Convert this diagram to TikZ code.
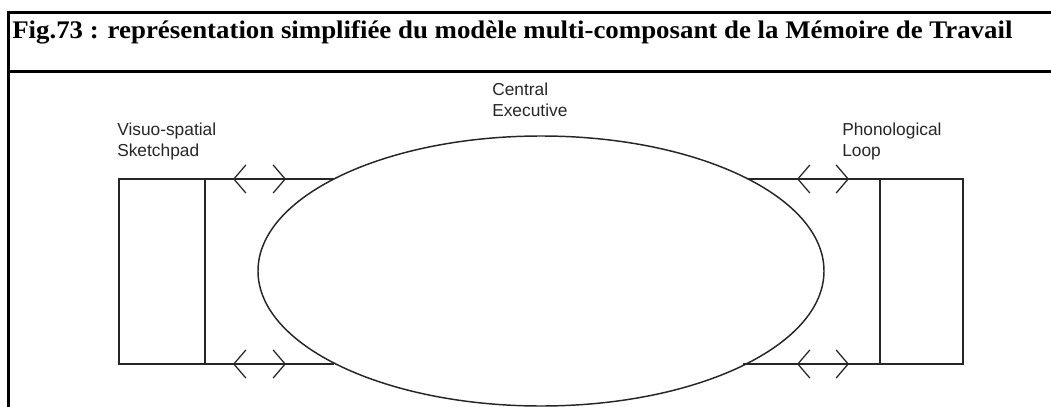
\documentclass[tikz,border=0pt]{standalone}
\usepackage{fontspec}
\setmainfont{Liberation Serif}
\setsansfont{Liberation Sans}
\usepackage{tikz}
\usetikzlibrary{arrows.meta,calc,positioning,shapes.geometric}
\definecolor{ink}{HTML}{262626}

\begin{document}
\begin{tikzpicture}[x=0.75pt,y=-0.75pt,
  frame/.style={line width=1.9pt,black},
  wire/.style={draw=ink,line width=0.95pt},
  slave/.style={wire,rectangle,inner sep=0pt,outer sep=0pt,minimum height=138.75pt},
  dbl/.style={wire,{Straight Barb[length=9pt,width=21pt]}-{Straight Barb[length=9pt,width=21pt]}},
  lbl/.style={anchor=north west,inner sep=0pt,align=left,text=ink,
    font=\sffamily\fontsize{13}{15.6}\selectfont}]
  \clip (0,0) rectangle (1051,407);
  % table frame
  \draw[frame] (1060,12.5) -- (8.5,12.5) -- (8.5,420);
  \draw[frame] (8.5,71.5) -- (1060,71.5);
  \node[anchor=base west,inner sep=0pt,font=\bfseries\fontsize{19}{21}\selectfont] (title) at (12,38)
    {\scalebox{1.06}[1]{Fig.73 : représentation simplifiée du modèle multi-composant de la Mémoire de Travail}};
  % components
  \node[wire,ellipse,inner sep=0pt,outer sep=0pt,minimum width=424.5pt,minimum height=202.5pt,line width=1.1pt] (ce) at (541,271) {};
  \node[slave,minimum width=64.5pt] (vss) at (162,271.5) {};
  \node[slave,minimum width=62.25pt] (pl) at (921.5,271.5) {};
  \draw[wire] (vss.north east) -- (vss.north east -| ce.156);
  \draw[wire] (vss.south east) -- (vss.south east -| ce.204.5);
  \draw[wire] (pl.north west) -- (pl.north west -| ce.24);
  \draw[wire] (pl.south west) -- (pl.south west -| ce.335.5);
  % arrows
  \coordinate (va1) at (233,179); \coordinate (va2) at (286,179);
  \coordinate (vb1) at (233,364); \coordinate (vb2) at (286,364);
  \coordinate (pa1) at (797,179); \coordinate (pa2) at (849,179);
  \coordinate (pb1) at (797,364); \coordinate (pb2) at (849,364);
  \draw[dbl] (va1) -- (va2);
  \draw[dbl] (vb1) -- (vb2);
  \draw[dbl] (pa1) -- (pa2);
  \draw[dbl] (pb1) -- (pb2);
  % labels
  \node[lbl] (vsslbl) at (117,123) {Visuo-spatial\\Sketchpad};
  \node[lbl] (cel) at (492,83) {Central\\Executive};
  \node[lbl] (pllbl) at (842,123) {Phonological\\Loop};
\end{tikzpicture}
\end{document}
